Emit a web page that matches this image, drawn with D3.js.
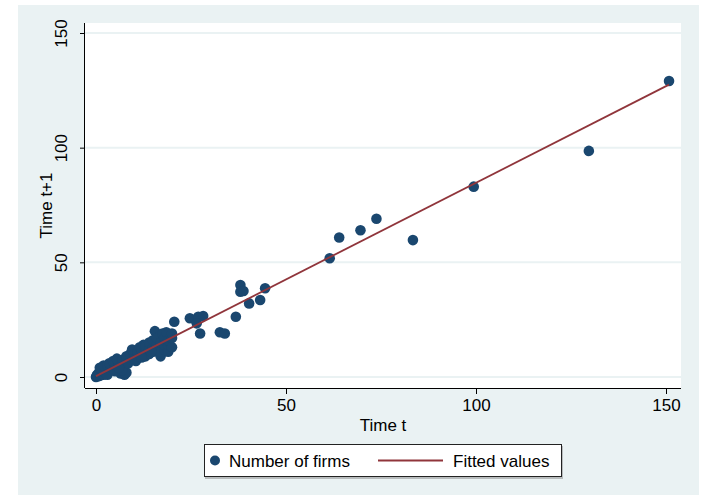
<!DOCTYPE html>
<html>
<head>
<meta charset="utf-8">
<script src="https://d3js.org/d3.v7.min.js"></script>
<style>
  body { margin: 0; background: #fff; }
  svg { display: block; font-family: "Liberation Sans", Arial, sans-serif; }
</style>
</head>
<body>
<div id="chart"></div>
<script>
// number of firms at time t and time t+1
var firmsT = [
  0, 0.2, 0.5, 0.3, 1, 1, 1.5, 0.8, 2, 2, 1.5, 2.5, 3, 3, 1, 2, 3, 4, 4, 3.5,
  5, 5, 4.5, 6, 6, 5.5, 7, 7, 6.5, 7.5, 8, 7, 8, 8, 9, 9, 10, 10, 9.5, 11,
  11, 11.5, 12, 12, 12.5, 13, 13, 13, 14, 14, 14, 15, 15, 15, 15.5, 16, 16, 16, 17, 17,
  17, 17.5, 18, 18, 18, 18.5, 19, 19, 19, 20, 20, 20, 20.6, 3, 5, 6, 8.5, 10.5, 12, 14.5,
  24.7, 26.9, 28.2, 26.5, 27.4, 32.6, 33.9, 36.8, 38.0, 38.0, 38.8, 44.5, 40.3, 43.2,
  61.5, 64.0, 69.6, 73.8, 83.4, 99.4, 129.7, 150.8
];
var firmsT1 = [
  0, 0.5, 0.3, 1, 0.5, 1.5, 1, 2, 1, 2.5, 3, 2, 2, 3.5, 4, 5, 5, 3, 4.5, 6,
  4, 5.5, 7, 5, 6.5, 8, 6, 7.5, 1.5, 1, 2, 3, 7, 9, 8, 10, 8.5, 10.5, 12, 9,
  11, 13, 10, 12, 14, 9, 11, 13.5, 10, 12, 15, 11, 13, 16, 20, 12, 14, 17, 9, 11,
  15, 19, 12, 14, 17, 19.5, 11, 14, 16, 13, 17, 19, 24.1, 1, 2.5, 4, 6, 7, 8.5, 11,
  25.6, 26.3, 26.6, 23.4, 19.0, 19.5, 19.0, 26.3, 40.1, 37.2, 37.5, 38.7, 32.1, 33.6,
  51.8, 60.8, 64.0, 69.0, 59.7, 83.0, 98.6, 129.1
];
// fitted regression line, end points
var fitX = [0, 150.8];
var fitY = [0.4, 127.5];

var xTicks = [0, 50, 100, 150];
var yTicks = [0, 50, 100, 150];
var legendLabels = ["Number of firms", "Fitted values"];

var W = 701, H = 495;
var plot = { left: 85, right: 681, top: 23, bottom: 388 };
var navy = "#1a476f", maroon = "#90353b", bg = "#eaf2f3";

var svg = d3.select("#chart").append("svg")
  .attr("width", W).attr("height", H);

svg.append("rect").attr("x", 18).attr("y", 5)
  .attr("width", 681).attr("height", 490).attr("fill", bg);
svg.append("rect").attr("x", plot.left).attr("y", plot.top)
  .attr("width", plot.right - plot.left).attr("height", plot.bottom - plot.top)
  .attr("fill", "#fff");

var x = d3.scaleLinear().domain([0, 150]).range([96, 666]);
var y = d3.scaleLinear().domain([0, 150]).range([377, 33]);

// gridlines
svg.append("g").selectAll("line").data(yTicks).enter().append("line")
  .attr("x1", plot.left).attr("x2", plot.right)
  .attr("y1", function (d) { return y(d); })
  .attr("y2", function (d) { return y(d); })
  .attr("stroke", bg).attr("stroke-width", 2);

// axes
var xAxis = svg.append("g")
  .attr("transform", "translate(0," + plot.bottom + ")")
  .call(d3.axisBottom(x).tickValues(xTicks).tickSize(6).tickPadding(5));
xAxis.select(".domain").attr("d", "M" + plot.left + ",0.5H" + plot.right);
xAxis.selectAll("text").attr("font-size", 17).attr("fill", "#000").style("font-family", "Liberation Sans, Arial, sans-serif");

var yAxis = svg.append("g")
  .attr("transform", "translate(" + plot.left + ",0)")
  .call(d3.axisLeft(y).tickValues(yTicks).tickSize(5).tickFormat(d3.format("d")));
yAxis.select(".domain").attr("d", "M-0.5," + plot.top + "V" + plot.bottom);
yAxis.selectAll("text")
  .attr("x", null).attr("dy", null)
  .attr("text-anchor", "middle")
  .attr("transform", function () { return "translate(-16,0) rotate(-90)"; })
  .attr("y", 0).attr("dy", "-0.1em")
  .attr("font-size", 17).attr("fill", "#000")
  .style("font-family", "Liberation Sans, Arial, sans-serif");

// axis titles
svg.append("text")
  .attr("x", (plot.left + plot.right) / 2).attr("y", 431)
  .attr("text-anchor", "middle").attr("font-size", 17).text("Time t");
svg.append("text")
  .attr("transform", "translate(52," + (plot.top + plot.bottom) / 2 + ") rotate(-90)")
  .attr("text-anchor", "middle").attr("font-size", 17).text("Time t+1");

// scatter
var pts = firmsT.map(function (d, i) { return [d, firmsT1[i]]; });
svg.append("g").selectAll("circle").data(pts).enter().append("circle")
  .attr("cx", function (d) { return x(d[0]); })
  .attr("cy", function (d) { return y(d[1]); })
  .attr("r", 5.3)
  .attr("fill", navy);

// fitted line
svg.append("path")
  .datum(fitX.map(function (d, i) { return [d, fitY[i]]; }))
  .attr("d", d3.line().x(function (d) { return x(d[0]); }).y(function (d) { return y(d[1]); }))
  .attr("fill", "none").attr("stroke", maroon).attr("stroke-width", 1.8);

// legend
var lg = svg.append("g");
lg.append("rect").attr("x", 205).attr("y", 446).attr("width", 358).attr("height", 33)
  .attr("fill", "#b8bcbd");
lg.append("rect").attr("x", 204.5).attr("y", 444.5).attr("width", 357).attr("height", 32)
  .attr("fill", "#fff").attr("stroke", "#222").attr("stroke-width", 1);
lg.append("circle").attr("cx", 215).attr("cy", 460.5).attr("r", 5).attr("fill", navy);
lg.append("text").attr("x", 229).attr("y", 466.5).attr("font-size", 17).text(legendLabels[0]);
lg.append("line").attr("x1", 378).attr("x2", 443).attr("y1", 460.5).attr("y2", 460.5)
  .attr("stroke", maroon).attr("stroke-width", 1.8);
lg.append("text").attr("x", 453).attr("y", 466.5).attr("font-size", 17).text(legendLabels[1]);
</script>
</body>
</html>
